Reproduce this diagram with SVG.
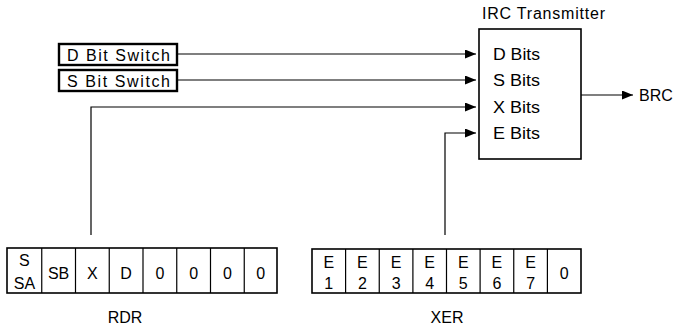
<svg xmlns="http://www.w3.org/2000/svg" width="676" height="329" viewBox="0 0 676 329">
<defs>
<style>
text{font-family:"Liberation Sans",Arial,sans-serif;fill:#000;}
.lbl{font-size:16px;}
.cell{font-size:16px;text-anchor:middle;}
.ln{stroke:#000;stroke-width:1.2;fill:none;}
.box{stroke:#000;stroke-width:1.6;fill:#fff;}
.sw{stroke:#000;stroke-width:2.4;fill:#fff;}
</style>
<marker id="ah" viewBox="0 0 11 9" refX="11" refY="4.5" markerWidth="11" markerHeight="9" markerUnits="userSpaceOnUse" orient="auto">
<path d="M0,0 L11,4.5 L0,9 Z" fill="#000"/>
</marker>
</defs>
<rect width="676" height="329" fill="#fff"/>

<g id="connectors">
<path class="ln" d="M177,54 H476" marker-end="url(#ah)"/>
<path class="ln" d="M177,80 H476" marker-end="url(#ah)"/>
<path class="ln" d="M91,235 V107 H476" marker-end="url(#ah)"/>
<path class="ln" d="M445,235 V133 H476" marker-end="url(#ah)"/>
<path class="ln" d="M581,95 H633" marker-end="url(#ah)"/>
</g>

<g id="d-bit-switch">
<rect class="sw" x="59" y="44" width="118" height="21"/>
<text class="lbl" x="67" y="61" textLength="103" lengthAdjust="spacing">D Bit Switch</text>
</g>

<g id="s-bit-switch">
<rect class="sw" x="59" y="70" width="118" height="21"/>
<text class="lbl" x="67" y="87" textLength="103" lengthAdjust="spacing">S Bit Switch</text>
</g>

<g id="irc-transmitter">
<text class="lbl" x="482" y="19" textLength="123" lengthAdjust="spacing">IRC Transmitter</text>
<rect class="box" x="479" y="29" width="102" height="130"/>
<text class="lbl" x="493" y="60" textLength="47" lengthAdjust="spacingAndGlyphs">D Bits</text>
<text class="lbl" x="493" y="86" textLength="47" lengthAdjust="spacingAndGlyphs">S Bits</text>
<text class="lbl" x="493" y="113" textLength="47" lengthAdjust="spacingAndGlyphs">X Bits</text>
<text class="lbl" x="493" y="139" textLength="47" lengthAdjust="spacingAndGlyphs">E Bits</text>
</g>

<g id="brc">
<text class="lbl" x="639" y="101">BRC</text>
</g>

<g id="rdr">
<rect class="box" x="7" y="248" width="270" height="45"/>
<path class="ln" d="M41.75,248V293 M75.5,248V293 M109.25,248V293 M143,248V293 M176.75,248V293 M210.5,248V293 M244.25,248V293"/>
<text class="cell" x="24.4" y="266">S</text>
<text class="cell" x="24.4" y="289">SA</text>
<text class="cell" x="58.6" y="279">SB</text>
<text class="cell" x="92.4" y="279">X</text>
<text class="cell" x="126.1" y="279">D</text>
<text class="cell" x="159.9" y="279">0</text>
<text class="cell" x="193.6" y="279">0</text>
<text class="cell" x="227.4" y="279">0</text>
<text class="cell" x="260.6" y="279">0</text>
<text class="lbl" x="125" y="323" text-anchor="middle">RDR</text>
</g>

<g id="xer">
<rect class="box" x="312" y="249" width="269" height="44"/>
<path class="ln" d="M345.6,249V293 M379.25,249V293 M412.9,249V293 M446.5,249V293 M480.1,249V293 M513.75,249V293 M547.4,249V293"/>
<text class="cell" x="328.8" y="268">E</text><text class="cell" x="328.8" y="289">1</text>
<text class="cell" x="362.4" y="268">E</text><text class="cell" x="362.4" y="289">2</text>
<text class="cell" x="396.1" y="268">E</text><text class="cell" x="396.1" y="289">3</text>
<text class="cell" x="429.7" y="268">E</text><text class="cell" x="429.7" y="289">4</text>
<text class="cell" x="463.3" y="268">E</text><text class="cell" x="463.3" y="289">5</text>
<text class="cell" x="496.9" y="268">E</text><text class="cell" x="496.9" y="289">6</text>
<text class="cell" x="530.6" y="268">E</text><text class="cell" x="530.6" y="289">7</text>
<text class="cell" x="564.2" y="279">0</text>
<text class="lbl" x="447" y="323" text-anchor="middle">XER</text>
</g>
</svg>
